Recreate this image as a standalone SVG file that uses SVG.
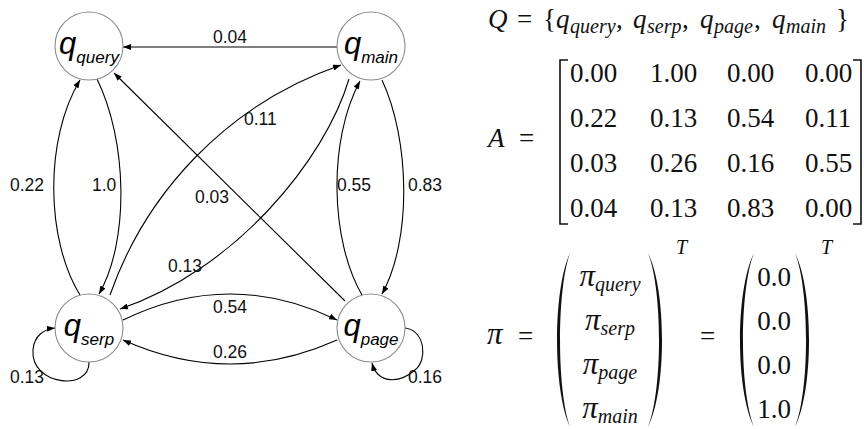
<svg xmlns="http://www.w3.org/2000/svg" width="864" height="429" viewBox="0 0 864 429">
<defs>
<marker id="ah" markerWidth="8" markerHeight="6" refX="8" refY="3" orient="auto" markerUnits="userSpaceOnUse"><path d="M0,0 L8,3 L0,6 z" fill="#000"/></marker>
<style>
.node circle{fill:#fff;stroke:#8c8c8c;stroke-width:1.1}
.nl{font-family:"Liberation Sans",Arial,sans-serif;font-style:italic;fill:#000}
.q{font-size:31px}
.sub{font-size:17px}
.edge{fill:none;stroke:#000;stroke-width:1.1;marker-end:url(#ah)}
.el{font-family:"Liberation Sans",Arial,sans-serif;font-size:17.5px;fill:#111}
.m{font-family:"Liberation Serif","Times New Roman",serif;font-size:27px;fill:#111}
.mi{font-style:italic}
.ms{font-size:20px;font-style:italic}
.pi{font-size:31px;font-style:italic}
.delim{fill:#111}
.brk{fill:none;stroke:#111;stroke-width:1.6}
</style>
</defs>
<rect width="864" height="429" fill="#fff"/>
<g id="connectors">
<path class="edge" d="M337,47 L123,47"/>
<path class="edge" d="M97,79 C127,140 130,240 99,294"/>
<path class="edge" d="M80,295 C46,240 44,140 80,80"/>
<path class="edge" d="M110,295 C145,195 225,105 341,65"/>
<path class="edge" d="M349,79 C325,160 235,270 120,309"/>
<path class="edge" d="M345,301 L114,73"/>
<path class="edge" d="M362,295 C330,240 328,140 360,81"/>
<path class="edge" d="M382,80 C410,140 412,240 382,294"/>
<path class="edge" d="M123,320 Q230,268 337,320"/>
<path class="edge" d="M337,340 Q230,388 123,340"/>
<path class="edge" d="M89,362 C90,392 30,385 33,350 C34,335 45,329 55,328"/>
<path class="edge" d="M405,328 C425,330 428,360 415,370 C400,383 378,385 372,363"/>
<text class="el" x="213" y="43">0.04</text>
<text class="el" x="244" y="125">0.11</text>
<text class="el" x="10" y="191">0.22</text>
<text class="el" x="92" y="191">1.0</text>
<text class="el" x="195" y="203">0.03</text>
<text class="el" x="337" y="191">0.55</text>
<text class="el" x="408" y="191">0.83</text>
<text class="el" x="168" y="272">0.13</text>
<text class="el" x="213" y="313">0.54</text>
<text class="el" x="213" y="358">0.26</text>
<text class="el" x="10" y="383">0.13</text>
<text class="el" x="408" y="383">0.16</text>
</g>
<g id="q_query" class="node"><circle cx="89" cy="46" r="34"/><text class="nl" x="89" y="54" text-anchor="middle"><tspan class="q">q</tspan><tspan class="sub" dy="9">query</tspan></text></g>
<g id="q_main" class="node"><circle cx="371" cy="46" r="34"/><text class="nl" x="371" y="54" text-anchor="middle"><tspan class="q">q</tspan><tspan class="sub" dy="9">main</tspan></text></g>
<g id="q_serp" class="node"><circle cx="89" cy="328" r="34"/><text class="nl" x="89" y="336" text-anchor="middle"><tspan class="q">q</tspan><tspan class="sub" dy="9">serp</tspan></text></g>
<g id="q_page" class="node"><circle cx="371" cy="328" r="34"/><text class="nl" x="371" y="336" text-anchor="middle"><tspan class="q">q</tspan><tspan class="sub" dy="9">page</tspan></text></g>
<g id="math">
<text class="m" y="28"><tspan class="mi" x="488">Q</tspan><tspan x="517">=</tspan><tspan x="543">{</tspan><tspan class="mi" x="556">q</tspan><tspan class="ms" x="570" y="33">query</tspan><tspan x="616" y="28">,</tspan><tspan class="mi" x="633">q</tspan><tspan class="ms" x="647" y="33">serp</tspan><tspan x="682" y="28">,</tspan><tspan class="mi" x="700">q</tspan><tspan class="ms" x="714" y="33">page</tspan><tspan x="754" y="28">,</tspan><tspan class="mi" x="772">q</tspan><tspan class="ms" x="786" y="33">main</tspan><tspan x="836" y="28">}</tspan></text>
<text class="m mi" x="488" y="147">A</text>
<text class="m" x="519" y="147">=</text>
<path class="brk" d="M568,60 H560 V224 H568"/>
<path class="brk" d="M853,60 H861 V224 H853"/>
<text class="m" y="82"><tspan x="570">0.00</tspan><tspan x="650">1.00</tspan><tspan x="727">0.00</tspan><tspan x="805">0.00</tspan></text>
<text class="m" y="127"><tspan x="570">0.22</tspan><tspan x="650">0.13</tspan><tspan x="727">0.54</tspan><tspan x="805">0.11</tspan></text>
<text class="m" y="172"><tspan x="570">0.03</tspan><tspan x="650">0.26</tspan><tspan x="727">0.16</tspan><tspan x="805">0.55</tspan></text>
<text class="m" y="217"><tspan x="570">0.04</tspan><tspan x="650">0.13</tspan><tspan x="727">0.83</tspan><tspan x="805">0.00</tspan></text>
<text class="m pi" x="487" y="344">π</text>
<text class="m" x="518" y="345">=</text>
<path class="delim" d="M570,253 C552.7,290 552.7,390 570,427 C556.7,390 556.7,290 570,253 Z"/>
<path class="delim" d="M648,253 C666.7,290 666.7,390 648,427 C662.7,390 662.7,290 648,253 Z"/>
<text class="m ms" x="676" y="254">T</text>
<text class="m" x="610" y="286" text-anchor="middle"><tspan class="pi">π</tspan><tspan class="ms" dy="5">query</tspan></text>
<text class="m" x="610" y="330" text-anchor="middle"><tspan class="pi">π</tspan><tspan class="ms" dy="5">serp</tspan></text>
<text class="m" x="610" y="374" text-anchor="middle"><tspan class="pi">π</tspan><tspan class="ms" dy="5">page</tspan></text>
<text class="m" x="610" y="418" text-anchor="middle"><tspan class="pi">π</tspan><tspan class="ms" dy="5">main</tspan></text>
<text class="m" x="700" y="345">=</text>
<path class="delim" d="M754,253 C735.3,290 735.3,390 754,427 C739.3,390 739.3,290 754,253 Z"/>
<path class="delim" d="M795,253 C813.7,290 813.7,390 795,427 C809.7,390 809.7,290 795,253 Z"/>
<text class="m ms" x="821" y="254">T</text>
<text class="m" x="774" y="286" text-anchor="middle">0.0</text>
<text class="m" x="774" y="330" text-anchor="middle">0.0</text>
<text class="m" x="774" y="374" text-anchor="middle">0.0</text>
<text class="m" x="774" y="418" text-anchor="middle">1.0</text>
</g>
</svg>
